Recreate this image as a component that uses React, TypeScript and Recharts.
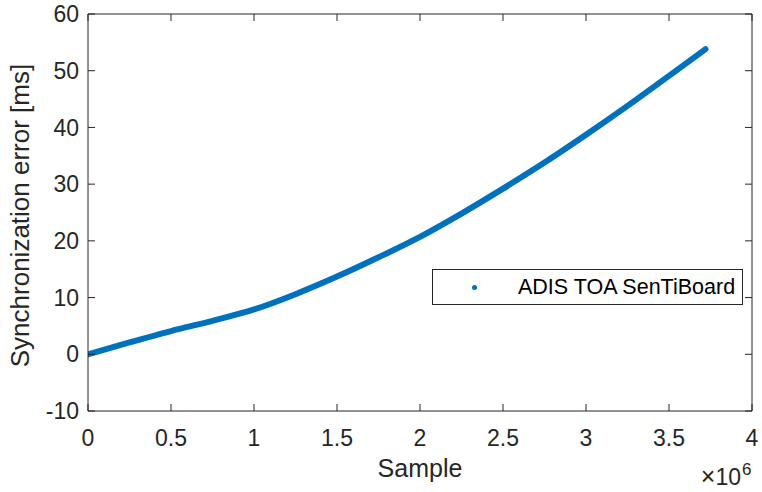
import React from "react";
import { Legend, Line, LineChart, XAxis, YAxis } from "recharts";

// Sample index vs. accumulated synchronization error
const SAMPLES = [
  0, 250000, 500000, 750000, 1000000, 1250000, 1500000, 1750000, 2000000,
  2250000, 2500000, 2750000, 3000000, 3250000, 3500000, 3720000
];
const SYNC_ERROR_MS = [
  0, 2.1, 4.1, 5.9, 7.9, 10.6, 13.7, 17.1, 20.7, 24.8, 29.2, 33.8, 38.7,
  43.8, 49.1, 53.8
];
const X_TICKS = [0, 500000, 1000000, 1500000, 2000000, 2500000, 3000000, 3500000, 4000000];
const Y_TICKS = [-10, 0, 10, 20, 30, 40, 50, 60];
const SERIES_NAME = "ADIS TOA SenTiBoard";

const data = SAMPLES.map((s, i) => ({ sample: s, error: SYNC_ERROR_MS[i] }));

const INK = "#262626";
const BLUE = "#0072BD";
const FONT = "'Liberation Sans', Arial, Helvetica, sans-serif";
const X_DOMAIN = [0, 4000000];
const Y_DOMAIN = [-10, 60];

const fmtX = (v: number) => String(v / 1000000);
const noLabel = () => <g />;

function XLabel(props: any) {
  const { x, width } = props.viewBox;
  return (
    <g fontFamily={FONT} fill={INK}>
      <text x={x + width / 2} y={477} textAnchor="middle" fontSize={25}>
        Sample
      </text>
      <text x={x + width - 11} y={485} textAnchor="end" fontSize={23}>
        <tspan fontSize={25}>×</tspan>10
      </text>
      <text x={x + width - 10} y={475} textAnchor="start" fontSize={17}>
        6
      </text>
    </g>
  );
}

function YLabel(props: any) {
  const { y, height } = props.viewBox;
  const cx = 29;
  const cy = y + height / 2 + 3;
  return (
    <text
      x={cx}
      y={cy}
      transform={`rotate(-90, ${cx}, ${cy})`}
      textAnchor="middle"
      fontSize={26}
      fontFamily={FONT}
      fill={INK}
    >
      Synchronization error [ms]
    </text>
  );
}

function LegendBox() {
  return (
    <div
      style={{
        boxSizing: "border-box",
        width: 311,
        height: 36,
        border: `1px solid ${INK}`,
        background: "#fff",
        display: "flex",
        alignItems: "center",
        fontFamily: FONT,
        fontSize: 21.5,
        color: "#000"
      }}
    >
      <span
        style={{
          display: "inline-block",
          width: 5,
          height: 5,
          borderRadius: "50%",
          background: BLUE,
          marginLeft: 39,
          marginRight: 41
        }}
      />
      <span>{SERIES_NAME}</span>
    </div>
  );
}

export default function App() {
  return (
    <div style={{ position: "absolute", left: 0, top: 0, width: 762, height: 492, background: "#fff" }}>
      <LineChart
        width={762}
        height={492}
        data={data}
        margin={{ top: 14, right: 10, bottom: 0, left: 0 }}
      >
        {/* labelled bottom and left axes, ticks drawn by the mirrored copies */}
        <XAxis
          xAxisId="b"
          dataKey="sample"
          type="number"
          domain={X_DOMAIN}
          ticks={X_TICKS}
          interval={0}
          allowDataOverflow
          height={81}
          tickLine={false}
          tickSize={0}
          tickMargin={19}
          tickFormatter={fmtX}
          tick={{ fill: INK, fontSize: 23, fontFamily: FONT }}
          axisLine={{ stroke: INK, strokeWidth: 1 }}
          label={<XLabel />}
        />
        <YAxis
          yAxisId="l"
          type="number"
          domain={Y_DOMAIN}
          ticks={Y_TICKS}
          interval={0}
          allowDataOverflow
          width={88}
          tickLine={false}
          tickSize={0}
          tickMargin={9}
          tick={{ fill: INK, fontSize: 23, fontFamily: FONT }}
          axisLine={{ stroke: INK, strokeWidth: 1 }}
          label={<YLabel />}
        />
        {/* inward tick marks on all four sides */}
        <XAxis
          xAxisId="bm"
          dataKey="sample"
          type="number"
          domain={X_DOMAIN}
          ticks={X_TICKS}
          interval={0}
          allowDataOverflow
          mirror
          tick={noLabel}
          tickSize={7}
          axisLine={false}
          tickLine={{ stroke: INK }}
        />
        <XAxis
          xAxisId="t"
          orientation="top"
          dataKey="sample"
          type="number"
          domain={X_DOMAIN}
          ticks={X_TICKS}
          interval={0}
          allowDataOverflow
          mirror
          tick={noLabel}
          tickSize={7}
          axisLine={{ stroke: INK }}
          tickLine={{ stroke: INK }}
        />
        <YAxis
          yAxisId="lm"
          type="number"
          domain={Y_DOMAIN}
          ticks={Y_TICKS}
          interval={0}
          allowDataOverflow
          mirror
          tick={noLabel}
          tickSize={7}
          axisLine={false}
          tickLine={{ stroke: INK }}
        />
        <YAxis
          yAxisId="r"
          orientation="right"
          type="number"
          domain={Y_DOMAIN}
          ticks={Y_TICKS}
          interval={0}
          allowDataOverflow
          mirror
          tick={noLabel}
          tickSize={7}
          axisLine={{ stroke: INK }}
          tickLine={{ stroke: INK }}
        />
        <Legend
          layout="horizontal"
          align="center"
          verticalAlign="middle"
          wrapperStyle={{ position: "absolute", left: 432, top: 269, width: 311, height: 36 }}
          content={() => <LegendBox />}
        />
        <Line
          xAxisId="b"
          yAxisId="l"
          dataKey="error"
          name={SERIES_NAME}
          type="monotone"
          stroke={BLUE}
          strokeWidth={6}
          strokeLinecap="round"
          dot={false}
          isAnimationActive={false}
        />
      </LineChart>
    </div>
  );
}
